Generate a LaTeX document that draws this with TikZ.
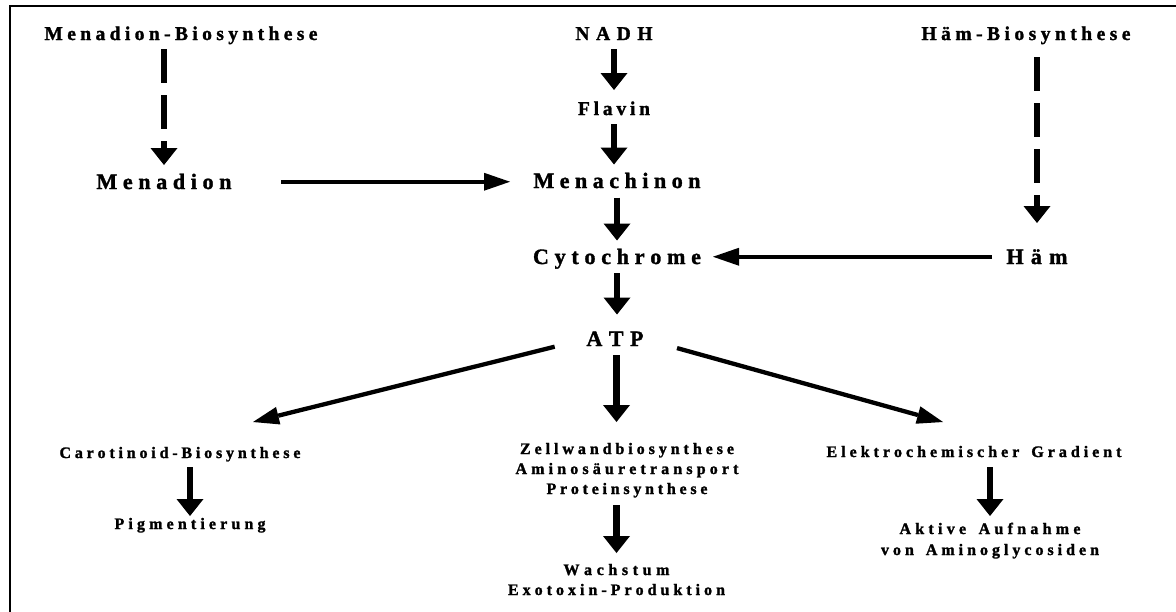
\documentclass[tikz,border=0pt]{standalone}
\usepackage{fontspec}
\setmainfont{Liberation Serif}[BoldFeatures={FakeBold=1.5}]
\usetikzlibrary{arrows.meta,calc}
\makeatletter
\newcommand\spr[2]{\makebox[#1pt][s]{\let\spr@sep\relax\@tfor\spr@t:=#2\do{\spr@sep\spr@t\let\spr@sep\hfil}}}
\makeatother
\newcommand\lines[2][20pt]{\vtop{\baselineskip=#1\lineskiplimit=-100pt\lineskip=0pt\halign{\hfil##\hfil\cr#2\crcr}}}
\tikzset{
  lbl/.style={inner sep=0pt, outer sep=0pt, anchor=base, text height=13pt, text depth=0pt,
    font=\bfseries\fontsize{19.5}{20}\selectfont},
  mainlbl/.style={lbl, text height=14.5pt, font=\bfseries\fontsize{22}{24}\selectfont},
  botlbl/.style={lbl, text height=10.5pt, font=\bfseries\fontsize{16}{20}\selectfont},
  bigarrow/.style={line width=6.7pt, -{Triangle[width=27pt,length=17pt,line width=0pt]}},
  dasharrow/.style={bigarrow, dash pattern=on 34pt off 12pt},
  thinarrow/.style={line width=4.3pt, -{Triangle[width=18pt,length=26pt,line width=0pt]}},
}
\begin{document}
\begin{tikzpicture}[x=1pt,y=-1pt]
\useasboundingbox (0,0) rectangle (1176,611);
\fill[white] (0,0) rectangle (1176,611);
\draw[line width=2pt] (10,615) -- (10,6) -- (1180,6);
% top row
\node[lbl] (menbio) at (181,40) {\spr{273}{Menadion-Biosynthese}};
\node[lbl] (nadh) at (614,40) {\spr{77}{NADH}};
\node[lbl] (hambio) at (1026,40) {\spr{209}{Häm-Biosynthese}};
\node[lbl] (flavin) at (614,115) {\spr{72}{Flavin}};
% main
\node[mainlbl] (menadion) at (164,189) {\spr{135}{Menadion}};
\node[mainlbl] (menachinon) at (617,188) {\spr{167}{Menachinon}};
\node[mainlbl] (cyto) at (617,264) {\spr{168}{Cytochrome}};
\node[mainlbl] (atp) at (615,346) {\spr{57}{ATP}};
\node[mainlbl] (ham) at (1037,264) {\spr{61}{Häm}};
% bottom
\node[botlbl] (carot) at (180,458) {\spr{241}{Carotinoid-Biosynthese}};
\node[botlbl] (pigment) at (190,529) {\spr{151}{Pigmentierung}};
\node[botlbl, text depth=40pt] (mid) at (627,454) {\lines{\spr{214}{Zellwandbiosynthese}\cr\spr{223}{Aminosäuretransport}\cr\spr{161}{Proteinsynthese}}};
\node[botlbl, text depth=20pt] (wach) at (616.5,575) {\lines{\spr{106}{Wachstum}\cr\spr{217}{Exotoxin-Produktion}}};
\node[botlbl] (elektro) at (974,457) {\spr{295}{Elektrochemischer~Gradient}};
\node[botlbl, text depth=21pt] (aktive) at (990,534) {\lines[21pt]{\spr{181}{Aktive~Aufnahme}\cr\spr{218}{von~Aminoglycosiden}}};
\coordinate (carotin) at (253,422);
\coordinate (elektin) at (943,422);
% arrows
\draw[bigarrow, shorten <=9pt, shorten >=12pt] (nadh.south) -- (nadh.south |- flavin.north);
\draw[bigarrow, shorten <=9pt, shorten >=9pt] (flavin.south) -- (flavin.south |- menachinon.north);
\draw[bigarrow, shorten <=9.5pt, shorten >=9pt] (menachinon.south) -- (menachinon.south |- cyto.north);
\draw[bigarrow, shorten <=9pt, shorten >=17pt] (cyto.south) -- (cyto.south |- atp.north);
\draw[bigarrow, shorten <=9pt, shorten >=21.5pt] (wach.north |- atp.south) -- (wach.north |- mid.north);
\draw[bigarrow, shorten <=11pt, shorten >=11.5pt] (wach.north |- mid.south) -- (wach.north);
\draw[bigarrow, shorten <=9pt, shorten >=2.5pt] (pigment.north |- carot.south) -- (pigment.north);
\draw[bigarrow, shorten <=10pt, shorten >=7.5pt] (aktive.north |- elektro.south) -- (aktive.north);
\draw[dasharrow, shorten <=9pt, shorten >=9.5pt] (menadion.north |- menbio.south) -- (menadion.north);
\draw[dasharrow, shorten <=17pt, shorten >=26.5pt] (ham.north |- hambio.south) -- (ham.north);
\draw[thinarrow, shorten <=49.5pt, shorten >=23.5pt] (menadion.east) -- (menadion.east -| menachinon.west);
\draw[thinarrow, shorten <=14.5pt, shorten >=12pt] (ham.west) -- (ham.west -| cyto.east);
\draw[thinarrow, shorten <=32.8pt] (atp.west) -- (carotin);
\draw[thinarrow, shorten <=34.8pt] (atp.east) -- (elektin);
\end{tikzpicture}
\end{document}
